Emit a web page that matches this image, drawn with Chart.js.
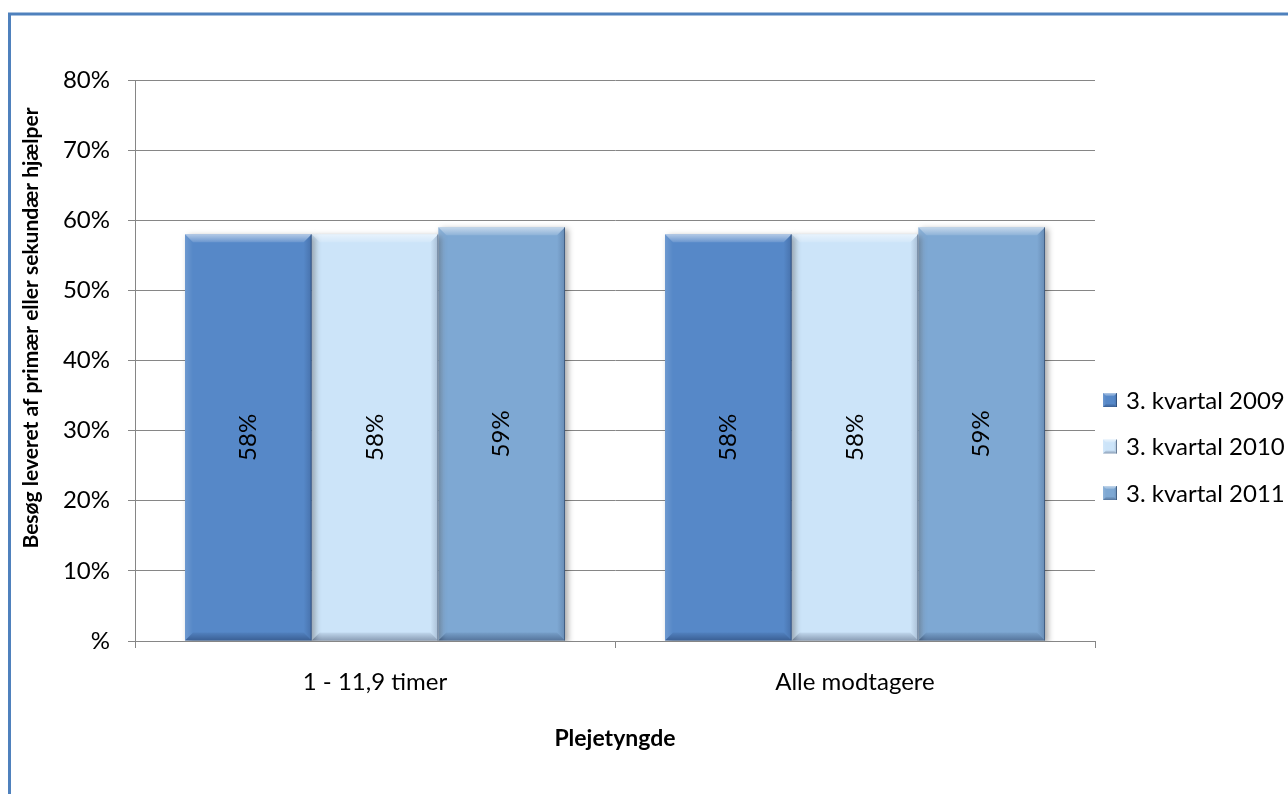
<!DOCTYPE html>
<html>
<head>
<meta charset="utf-8">
<script src="https://cdn.jsdelivr.net/npm/chart.js@4.4.0/dist/chart.umd.min.js"></script>
<style>
  html, body { margin: 0; padding: 0; background: #fff; }
</style>
</head>
<body>
<canvas id="visitChart" width="1288" height="794"></canvas>
<script>
// categories and series
const categories = ['1 - 11,9 timer', 'Alle modtagere'];
const seriesNames = ['3. kvartal 2009', '3. kvartal 2010', '3. kvartal 2011'];
const q3_2009 = [0.58, 0.58];
const q3_2010 = [0.58, 0.58];
const q3_2011 = [0.59, 0.59];
const yTickLabels = ['%', '10%', '20%', '30%', '40%', '50%', '60%', '70%', '80%'];

const seriesColors = ['#5688C8', '#CCE4F9', '#7EA8D3'];
const FONT = 'Lato, "Open Sans", sans-serif';
const GRID = '#868686';

// outer blue frame
const framePlugin = {
  id: 'frame',
  beforeDraw(chart) {
    const { ctx } = chart;
    ctx.save();
    ctx.fillStyle = '#fff';
    ctx.fillRect(0, 0, chart.width, chart.height);
    ctx.strokeStyle = '#4F81BD';
    ctx.lineWidth = 3;
    ctx.strokeRect(9.5, 14, chart.width + 20, chart.height + 20);
    ctx.restore();
  }
};

// soft drop shadow under the bars
const shadowPlugin = {
  id: 'barShadow',
  beforeDatasetsDraw(chart) {
    const { ctx } = chart;
    ctx.save();
    ctx.shadowColor = 'rgba(0,0,0,0.35)';
    ctx.shadowBlur = 6;
    ctx.shadowOffsetX = 3;
    ctx.shadowOffsetY = 2;
  },
  afterDatasetsDraw(chart) {
    chart.ctx.restore();
  }
};

function bevel(ctx, left, top, right, bottom, b) {
  const poly = (pts, fill) => {
    ctx.beginPath();
    ctx.moveTo(pts[0][0], pts[0][1]);
    for (let i = 1; i < pts.length; i++) ctx.lineTo(pts[i][0], pts[i][1]);
    ctx.closePath();
    ctx.fillStyle = fill;
    ctx.fill();
  };
  const gTop = ctx.createLinearGradient(0, top, 0, top + b);
  gTop.addColorStop(0, 'rgba(255,255,255,0.55)');
  gTop.addColorStop(1, 'rgba(255,255,255,0.12)');
  const gBot = ctx.createLinearGradient(0, bottom - b, 0, bottom);
  gBot.addColorStop(0, 'rgba(0,10,40,0.06)');
  gBot.addColorStop(1, 'rgba(0,10,40,0.32)');
  const gLeft = ctx.createLinearGradient(left, 0, left + b, 0);
  gLeft.addColorStop(0, 'rgba(255,255,255,0.14)');
  gLeft.addColorStop(1, 'rgba(255,255,255,0.0)');
  const gRight = ctx.createLinearGradient(right - b, 0, right, 0);
  gRight.addColorStop(0, 'rgba(0,10,40,0.0)');
  gRight.addColorStop(1, 'rgba(0,10,40,0.18)');
  poly([[left, top], [right, top], [right - b, top + b], [left + b, top + b]], gTop);
  poly([[left, bottom], [right, bottom], [right - b, bottom - b], [left + b, bottom - b]], gBot);
  poly([[left, top], [left + b, top + b], [left + b, bottom - b], [left, bottom]], gLeft);
  poly([[right, top], [right - b, top + b], [right - b, bottom - b], [right, bottom]], gRight);
  ctx.strokeStyle = 'rgba(20,40,70,0.45)';
  ctx.lineWidth = 1;
  ctx.beginPath();
  ctx.moveTo(right - 0.5, top);
  ctx.lineTo(right - 0.5, bottom);
  ctx.stroke();
}

// bevel edges and rotated value labels on every bar
const barDecorPlugin = {
  id: 'barDecor',
  afterDatasetsDraw(chart) {
    const { ctx } = chart;
    chart.data.datasets.forEach((ds, i) => {
      const meta = chart.getDatasetMeta(i);
      meta.data.forEach((bar, j) => {
        const { x, y, base, width } = bar.getProps(['x', 'y', 'base', 'width'], true);
        ctx.save();
        bevel(ctx, x - width / 2, y, x + width / 2, base, 8);
        ctx.translate(x, (y + base) / 2);
        ctx.rotate(-Math.PI / 2);
        ctx.font = '24px ' + FONT;
        ctx.fillStyle = '#000';
        ctx.textAlign = 'center';
        ctx.textBaseline = 'middle';
        ctx.fillText(Math.round(ds.data[j] * 100) + '%', 0, 0);
        ctx.restore();
      });
    });
  }
};

// legend on the right and the vertical axis title
const sidePlugin = {
  id: 'sideText',
  afterDraw(chart) {
    const { ctx } = chart;
    ctx.save();
    chart.data.datasets.forEach((ds, i) => {
      const cy = 400 + i * 46.5;
      const bx = 1103, s = 14;
      ctx.fillStyle = ds.backgroundColor;
      ctx.fillRect(bx, cy - s / 2, s, s);
      bevel(ctx, bx, cy - s / 2, bx + s, cy + s / 2, 3);
      ctx.font = '24px ' + FONT;
      ctx.fillStyle = '#000';
      ctx.textAlign = 'left';
      ctx.textBaseline = 'middle';
      ctx.fillText(ds.label, 1126, cy + 1);
    });
    ctx.translate(31, 328);
    ctx.rotate(-Math.PI / 2);
    ctx.font = 'bold 21px ' + FONT;
    ctx.textAlign = 'center';
    ctx.textBaseline = 'middle';
    ctx.fillText('Besøg leveret af primær eller sekundær hjælper', 0, 0);
    ctx.restore();
  }
};

const seriesData = [q3_2009, q3_2010, q3_2011];

new Chart(document.getElementById('visitChart'), {
  type: 'bar',
  data: {
    labels: categories,
    datasets: seriesNames.map((name, i) => ({
      label: name,
      data: seriesData[i],
      backgroundColor: seriesColors[i],
      borderWidth: 0,
      categoryPercentage: 0.7917,
      barPercentage: 1.0,
    })),
  },
  options: {
    responsive: false,
    animation: false,
    layout: { padding: { top: 80, right: 193, bottom: 0, left: 0 } },
    plugins: {
      legend: { display: false },
      tooltip: { enabled: false },
    },
    scales: {
      x: {
        afterFit(scale) { scale.height = 153; },
        grid: { drawOnChartArea: false, drawTicks: true, tickLength: 7, color: GRID, offset: true },
        border: { color: GRID, width: 1 },
        ticks: { color: '#000', font: { family: FONT, size: 24 }, padding: 20, maxRotation: 0 },
        title: {
          display: true,
          text: 'Plejetyngde',
          color: '#000',
          font: { family: FONT, size: 23, weight: 'bold' },
          padding: { top: 0, bottom: 42 },
        },
      },
      y: {
        min: 0,
        max: 0.8,
        afterFit(scale) { scale.width = 135; },
        grid: { color: GRID, tickLength: 7, drawTicks: true },
        border: { color: GRID, width: 1 },
        ticks: {
          stepSize: 0.1,
          color: '#000',
          padding: 18,
          font: { family: FONT, size: 24 },
          callback: (v, idx) => yTickLabels[idx],
        },
      },
    },
  },
  plugins: [framePlugin, shadowPlugin, barDecorPlugin, sidePlugin],
});
</script>
</body>
</html>
